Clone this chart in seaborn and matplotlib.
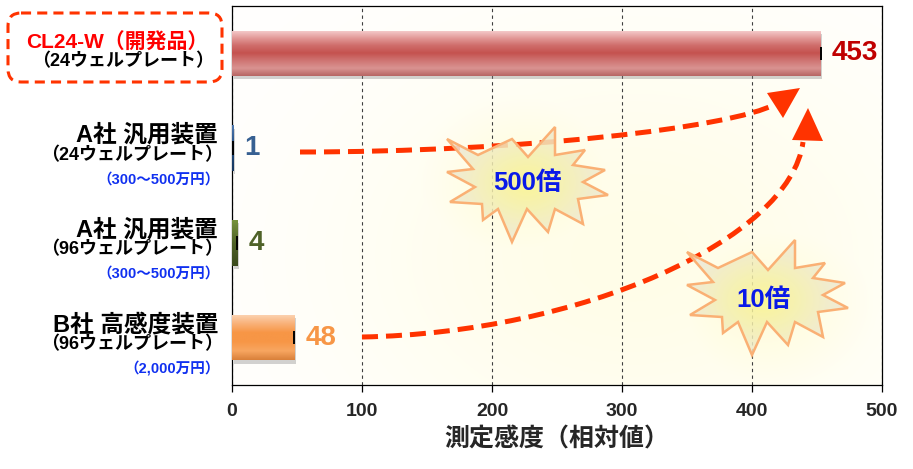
import numpy as np
import pandas as pd
import matplotlib
matplotlib.use("Agg")
import matplotlib.pyplot as plt
import seaborn as sns
from matplotlib.patches import Polygon, PathPatch, FancyBboxPatch, Rectangle
from matplotlib.path import Path
from matplotlib.colors import LinearSegmentedColormap

# ---- data -------------------------------------------------------------
names = ["CL24-W（開発品）", "A社 汎用装置", "A社 汎用装置", "B社 高感度装置"]
plates = ["（24ウェルプレート）", "（24ウェルプレート）",
          "（96ウェルプレート）", "（96ウェルプレート）"]
prices = ["", "（300～500万円）", "（300～500万円）", "（2,000万円）"]
sensitivity = [453, 1, 4, 48]
ratio_labels = ["500倍", "10倍"]
x_ticks = [0, 100, 200, 300, 400, 500]
x_label = "測定感度（相対値）"

devices = [n + p for n, p in zip(names, plates)]
df = pd.DataFrame({"device": devices, "value": sensitivity})

bar_colors = ["#C9605E", "#1F497D", "#4F6228", "#F79646"]
value_colors = ["#C00000", "#376092", "#4F6228", "#F79646"]
bar_shades = [
    ["#F6CFCF", "#E39A99", "#CF6D6B", "#C5524F", "#CF7573", "#D99391", "#B76664"],
    ["#4F79B0", "#1F497D", "#17375E"],
    ["#76923C", "#4F6228", "#3A4A1C"],
    ["#FCD5B5", "#F9B27A", "#F79646", "#F79646", "#F8A661", "#D9803A"],
]

JP = ["Liberation Sans", "Noto Sans CJK JP"]
NUM = ["Liberation Sans Narrow", "Liberation Sans"]

sns.set_theme(style="white")
plt.rcParams["font.family"] = JP

W, H = 913, 469
fig = plt.figure(figsize=(W / 100, H / 100), dpi=100)
ax = fig.add_axes([232 / W, (H - 385) / H, 650 / W, 379 / H])

# soft cream glow behind the plot area
gw, gh = 650, 379
uu, vv = np.meshgrid(np.arange(gw), np.arange(gh))
g = 0.45 * np.exp(-(((uu - 400) / 300.0) ** 2 + ((vv - 250) / 220.0) ** 2))
g = np.maximum(g, 0.65 * np.exp(-(((uu - 295) / 110.0) ** 2 + ((vv - 180) / 90.0) ** 2)))
g = np.maximum(g, 0.65 * np.exp(-(((uu - 530) / 110.0) ** 2 + ((vv - 295) / 90.0) ** 2)))
glow_col = np.array([1.0, 0.985, 0.80])
img = (1 - g)[..., None] * np.ones(3) + g[..., None] * glow_col
ax.imshow(img, extent=(0, 500, 3.5, -0.5), origin="upper", aspect="auto", zorder=-2)

sns.barplot(data=df, x="value", y="device", hue="device", palette=bar_colors,
            orient="h", width=0.48, legend=False, ax=ax, zorder=3,
            linewidth=0)

ax.set_xlim(0, 500)
ax.set_ylim(3.5, -0.5)

# glossy shading and drop shadow on every bar
for p in list(ax.patches):
    i = int(round(p.get_y() + p.get_height() / 2))
    x0, y0, w, h = p.get_x(), p.get_y(), p.get_width(), p.get_height()
    ax.add_patch(Rectangle((x0 + 1.2, y0 + 0.035), w, h, facecolor="#7f7f7f",
                           alpha=0.35, edgecolor="none", zorder=2))
    cmap = LinearSegmentedColormap.from_list("bar%d" % i, bar_shades[i])
    grad = np.linspace(0, 1, 200).reshape(-1, 1)
    im = ax.imshow(grad, cmap=cmap, extent=(x0, x0 + w, y0 + h, y0), origin="upper",
                   aspect="auto", zorder=3.5, interpolation="bilinear")
    im.set_clip_path(p)
    ax.vlines(sensitivity[i], i - 0.07, i + 0.07, color="black", lw=1.4, zorder=4)
    ax.annotate(str(sensitivity[i]), xy=(sensitivity[i], i), xytext=(11, 0),
                textcoords="offset pixels", ha="left", va="center",
                fontsize=20, fontweight="bold", color=value_colors[i], family=JP,
                zorder=6)

ax.set_xlim(0, 500)
ax.set_ylim(3.5, -0.5)

# axes frame, ticks and grid
for s in ax.spines.values():
    s.set_visible(True)
    s.set_color("black")
    s.set_linewidth(0.9)
ax.set_xticks(x_ticks)
ax.set_xticklabels([str(t) for t in x_ticks], fontsize=14, fontweight="bold",
                   family=NUM)
ax.tick_params(axis="x", direction="out", length=5, width=0.9, color="black",
               pad=8, bottom=True)
ax.tick_params(axis="y", length=0, labelleft=False)
ax.set_ylabel("")
ax.xaxis.grid(True, linestyle=(0, (3, 3)), color="#404040", linewidth=0.8, zorder=0)
ax.set_axisbelow(True)
ax.set_xlabel(x_label, fontsize=18, fontweight="bold", labelpad=5,
              family=["Noto Sans CJK JP"])

# category labels to the left of the axis
yx = ("axes fraction", "data")
for i in range(1, 4):
    ax.annotate(names[i], xy=(0, i), xycoords=yx, xytext=(-14, 13),
                textcoords="offset pixels", ha="right", va="center",
                fontsize=17, fontweight="bold", color="black", annotation_clip=False)
    ax.annotate(plates[i], xy=(0, i), xycoords=yx, xytext=(-9, -7),
                textcoords="offset pixels", ha="right", va="center",
                fontsize=13, fontweight="bold", color="black", annotation_clip=False)
    ax.annotate(prices[i], xy=(0, i), xycoords=yx, xytext=(-12, -31),
                textcoords="offset pixels", ha="right", va="center",
                fontsize=10.5, fontweight="bold", color="#1030F0", annotation_clip=False)
ax.annotate(names[0], xy=(0, 0), xycoords=yx, xytext=(-115, 11),
            textcoords="offset pixels", ha="center", va="center",
            fontsize=15, fontweight="bold", color="#FF0000", annotation_clip=False)
ax.annotate(plates[0], xy=(0, 0), xycoords=yx, xytext=(-109, -8),
            textcoords="offset pixels", ha="center", va="center",
            fontsize=13, fontweight="bold", color="black", annotation_clip=False)

# overlay in figure pixels for the callouts
ov = fig.add_axes([0, 0, 1, 1], zorder=5)
ov.set_xlim(0, W)
ov.set_ylim(H, 0)
ov.axis("off")
ov.patch.set_alpha(0)

ov.add_patch(FancyBboxPatch((8, 13), 214, 69,
                            boxstyle="round,pad=0,rounding_size=13",
                            facecolor="none", edgecolor="#FF3300", linewidth=2.2,
                            linestyle=(0, (3.3, 2.0))))

ARROW = "#FF3300"


def dashed_arrow(p0, p1, p2, p3, head):
    path = Path([p0, p1, p2, p3], [Path.MOVETO, Path.CURVE4, Path.CURVE4, Path.CURVE4])
    ov.add_patch(PathPatch(path, facecolor="none", edgecolor=ARROW, linewidth=3.6,
                           linestyle=(0, (3.2, 1.6)), capstyle="butt"))
    ov.add_patch(Polygon(head, closed=True, facecolor=ARROW, edgecolor="none"))


# explosion outline relative to its anchor point
star_tips = [(-63, -46), (2, -46), (45, -58), (75, -35), (95, -15), (98, 10),
             (73, 39), (38, 47), (2, 57), (-27, 35), (-60, 17), (-63, -13)]
star_inner = [(-32, -30), (18, -28), (45, -30), (63, -20), (73, -3), (68, 14),
              (45, 24), (17, 24), (-12, 24), (-28, 19), (-35, 2), (-37, -16)]
star_shape = []
for t, n in zip(star_tips, star_inner):
    star_shape.append(t)
    star_shape.append(n)
star_shape = np.array(star_shape, dtype=float)


def explosion(cx, cy, text, tx, ty):
    verts = star_shape + [cx, cy]
    poly = Polygon(verts, closed=True, facecolor="none", edgecolor="#FAB074",
                   linewidth=1.8, zorder=3)
    x0, y0 = verts.min(axis=0)
    x1, y1 = verts.max(axis=0)
    nx, ny = 160, 120
    xs = np.linspace(x0, x1, nx)
    ys = np.linspace(y0, y1, ny)
    X, Y = np.meshgrid(xs, ys)
    r = np.sqrt(((X - tx) / 80.0) ** 2 + ((Y - ty) / 60.0) ** 2)
    r = np.clip(r, 0, 1)
    inner = np.array([0.98, 0.96, 0.55])
    outer = np.array([0.93, 0.91, 0.84])
    rgb = (1 - r)[..., None] * inner + r[..., None] * outer
    rgba = np.dstack([rgb, np.full(r.shape, 0.85)])
    im = ov.imshow(rgba, extent=(x0, x1, y1, y0), origin="upper", aspect="auto",
                   zorder=2, interpolation="bilinear")
    ov.add_patch(poly)
    im.set_clip_path(poly)
    ov.text(tx, ty, text, ha="center", va="center", fontsize=18.5, fontweight="bold",
            color="#0A1AE8", zorder=4, family=JP)


dashed_arrow((300, 152), (520, 152), (730, 128), (776, 104),
             [(800, 88), (767, 93), (783, 118)])
explosion(510, 185, ratio_labels[0], 527, 183)
explosion(750, 298, ratio_labels[1], 764, 300)
dashed_arrow((362, 337), (580, 333), (790, 240), (803, 142),
             [(808, 108), (792, 140), (823, 141)])
ov.set_xlim(0, W)
ov.set_ylim(H, 0)

fig.savefig("out.png", dpi=100)
